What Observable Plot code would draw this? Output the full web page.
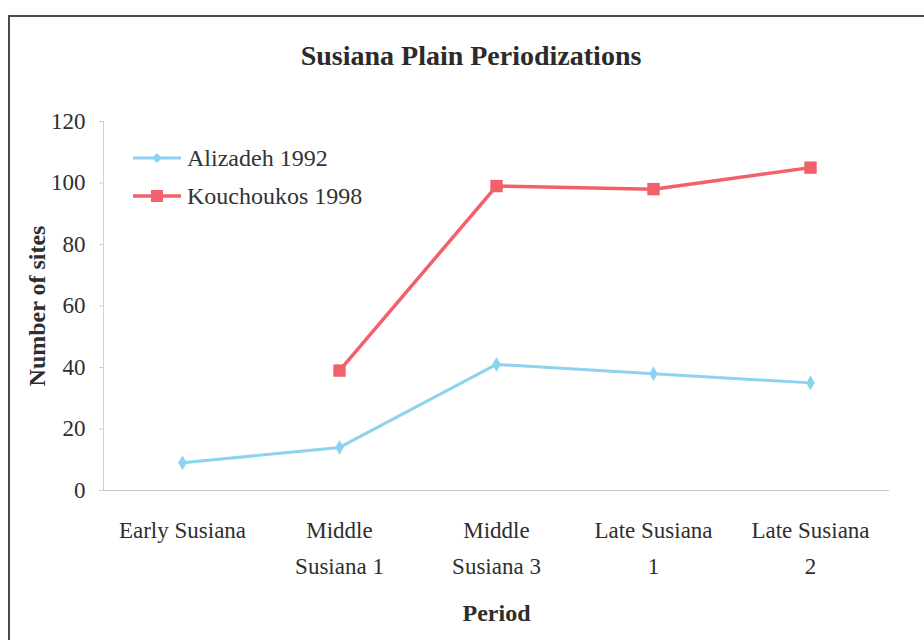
<!DOCTYPE html>
<html>
<head>
<meta charset="utf-8">
<script src="https://cdn.jsdelivr.net/npm/d3@7"></script>
<script src="https://cdn.jsdelivr.net/npm/@observablehq/plot@0.6"></script>
<style>
  html, body { margin: 0; padding: 0; background: #fff; }
  #wrap { position: relative; width: 924px; height: 640px; overflow: hidden; font-family: "Liberation Serif", "Times New Roman", serif; }
  #border { position: absolute; left: 8px; top: 15px; width: 1000px; height: 700px; border-left: 2px solid #4a4a4a; border-top: 2px solid #4a4a4a; }
  #title { position: absolute; left: 0; top: 40px; width: 942px; text-align: center; font-weight: bold; font-size: 28px; color: #2b2b2b; }
  #chart { position: absolute; left: 0; top: 0; }
  #legend { position: absolute; left: 133px; top: 139px; font-size: 24px; color: #333; }
  .row { display: flex; align-items: center; height: 38px; }
  .row svg { margin-right: 6px; }
</style>
</head>
<body>
<div id="wrap">
  <div id="border"></div>
  <div id="chart"></div>
  <div id="title">Susiana Plain Periodizations</div>
  <div id="legend"></div>
</div>
<script>
const periods = ["Early Susiana", "Middle\nSusiana 1", "Middle\nSusiana 3", "Late Susiana\n1", "Late Susiana\n2"];
const alizadeh1992 = [9, 14, 41, 38, 35];
const kouchoukos1998 = [null, 39, 99, 98, 105];
const yTicks = [0, 20, 40, 60, 80, 100, 120];
const seriesNames = ["Alizadeh 1992", "Kouchoukos 1998"];
const seriesColors = ["#8dd3f0", "#f2606b"];

const rows = [];
periods.forEach((p, i) => {
  rows.push({period: p, series: seriesNames[0], value: alizadeh1992[i]});
  rows.push({period: p, series: seriesNames[1], value: kouchoukos1998[i]});
});
const ali = rows.filter(d => d.series === seriesNames[0]);
const kou = rows.filter(d => d.series === seriesNames[1]);

const chart = Plot.plot({
  width: 924,
  height: 640,
  marginLeft: 103,
  marginRight: 35,
  marginTop: 121,
  marginBottom: 150,
  style: {fontFamily: "Liberation Serif, Times New Roman, serif", fontSize: "23px", color: "#2e2e2e", background: "transparent"},
  x: {type: "point", domain: periods, padding: 0.5},
  y: {domain: [0, 120]},
  marks: [
    Plot.ruleY([0], {stroke: "#c8c8c8", strokeWidth: 1.2}),
    Plot.frame({anchor: "left", stroke: "#d0d0d0", strokeWidth: 1}),
    Plot.axisY({ticks: yTicks, tickSize: 4, tickPadding: 14, stroke: "#cccccc", fontSize: 23,
      label: "Number of sites", labelAnchor: "center", labelOffset: 76, labelArrow: "none"}),
    Plot.axisX({tickSize: 0, tickPadding: 22, fontSize: 23, lineHeight: 1.57,
      label: "Period", labelAnchor: "center", labelOffset: 130, labelArrow: "none"}),
    Plot.line(ali, {x: "period", y: "value", stroke: seriesColors[0], strokeWidth: 3}),
    Plot.line(kou, {x: "period", y: "value", stroke: seriesColors[1], strokeWidth: 3.5}),
    Plot.dot(ali, {x: "period", y: "value", symbol: "diamond", r: 4.5, fill: seriesColors[0]}),
    Plot.dot(kou.filter(d => d.value != null), {x: "period", y: "value", symbol: "square", r: 7, fill: seriesColors[1]})
  ]
});
// bold axis labels
chart.querySelectorAll("[aria-label='y-axis label'] text, [aria-label='x-axis label'] text").forEach(t => {
  t.setAttribute("font-weight", "bold");
  t.setAttribute("font-size", "24");
});
document.getElementById("chart").appendChild(chart);

// legend
const legend = document.getElementById("legend");
seriesNames.forEach((name, i) => {
  const row = document.createElement("div");
  row.className = "row";
  const sym = i === 0
    ? `<polygon points="24,5 29,10 24,15 19,10" fill="${seriesColors[0]}"/>`
    : `<rect x="18" y="4" width="12" height="12" fill="${seriesColors[1]}"/>`;
  row.innerHTML = `<svg width="48" height="20"><line x1="0" x2="48" y1="10" y2="10" stroke="${seriesColors[i]}" stroke-width="${i === 0 ? 3 : 3.5}"/>${sym}</svg><span>${name}</span>`;
  legend.appendChild(row);
});
</script>
</body>
</html>
